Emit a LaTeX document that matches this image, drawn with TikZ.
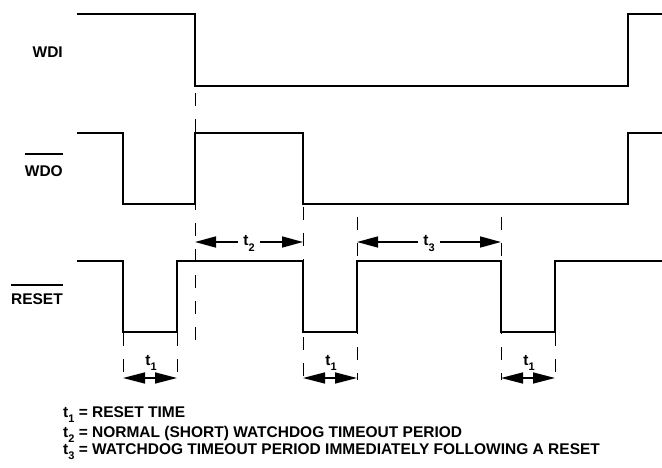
\documentclass[tikz,border=0pt]{standalone}
\usepackage{fontspec}
\setmainfont{Liberation Sans}
\usetikzlibrary{arrows.meta}
\newcommand\tsub[1]{\raisebox{-5.5pt}{\fontsize{11}{11}\selectfont #1}}
\begin{document}
\begin{tikzpicture}[x=1pt,y=-1pt,
 wave/.style={line width=2pt, line join=miter, line cap=butt},
 guide/.style={line width=1pt, dash pattern=on 13pt off 13pt},
 dimarrow/.style={line width=1.5pt, -{Triangle[length=21pt,width=11pt]}},
 dimboth/.style={line width=1.5pt, {Triangle[length=22pt,width=11pt]}-{Triangle[length=22pt,width=11pt]}},
 lab/.style={font=\fontsize{15.5}{18}\selectfont\bfseries, inner sep=0pt},
 tlab/.style={font=\fontsize{15.5}{18}\selectfont\bfseries, inner xsep=5pt, inner ysep=0pt, anchor=base},
 ovl/.style={line width=1.4pt}
]
\useasboundingbox (0,0) rectangle (662,468);
\fill[white] (0,0) rectangle (662,468);

% waveforms
\draw[wave] (77,14) -| (195,86) -| (628,14) -- (662,14);
\draw[wave] (77,133) -| (123,204) -| (195,133) -| (303,204) -| (628,133) -- (662,133);
\draw[wave] (77,261) -| (123,332) -| (177,261) -| (303,332) -| (357,261) -| (501,332) -| (555,261) -- (662,261);

% guide lines
\draw[guide] (195,93) -- (195,340);
\draw[guide] (303,207) -- (303,380);
\draw[guide] (357,217) -- (357,380);
\draw[guide] (501,217) -- (501,380);
\draw[guide] (123,333) -- (123,380);
\draw[guide] (177,333) -- (177,380);
\draw[guide] (555,333) -- (555,380);

% signal labels
\node[lab, anchor=base east] (wdi) at (63,58) {WDI};
\node[lab, anchor=base east] (wdo) at (63,177) {WDO};
\node[lab, anchor=base east] (rst) at (63,305) {RESET};
\draw[ovl] (wdo.west |- 0,154) -- (wdo.east |- 0,154);
\draw[ovl] (rst.west |- 0,285) -- (rst.east |- 0,285);

% t2 and t3 dimensions
\coordinate (t2a) at (195,242);
\coordinate (t2b) at (303,242);
\node[tlab] (t2) at (249,246) {t\tsub{2}};
\draw[dimarrow] (t2.west |- t2a) -- (t2a);
\draw[dimarrow] (t2.east |- t2b) -- (t2b);

\coordinate (t3a) at (357,242);
\coordinate (t3b) at (501,242);
\node[tlab] (t3) at (429,246) {t\tsub{3}};
\draw[dimarrow] (t3.west |- t3a) -- (t3a);
\draw[dimarrow] (t3.east |- t3b) -- (t3b);

% t1 dimensions
\coordinate (p1a) at (123,378); \coordinate (p1b) at (177,378);
\coordinate (p2a) at (303,378); \coordinate (p2b) at (357,378);
\coordinate (p3a) at (501,378); \coordinate (p3b) at (555,378);
\draw[dimboth] (p1a) -- (p1b);
\draw[dimboth] (p2a) -- (p2b);
\draw[dimboth] (p3a) -- (p3b);
\node[tlab] (t1a) at (151,365) {t\tsub{1}};
\node[tlab] (t1b) at (331,365) {t\tsub{1}};
\node[tlab] (t1c) at (529,365) {t\tsub{1}};

% legend
\node[lab, anchor=base west] (l1) at (63,417) {t\tsub{1} = RESET TIME};
\node[lab, anchor=base west] (l2) at (63,437) {t\tsub{2} = NORMAL (SHORT) WATCHDOG TIMEOUT PERIOD};
\node[lab, anchor=base west] (l3) at (63,454) {t\tsub{3} = WATCHDOG TIMEOUT PERIOD IMMEDIATELY FOLLOWING A RESET};
\end{tikzpicture}
\end{document}
